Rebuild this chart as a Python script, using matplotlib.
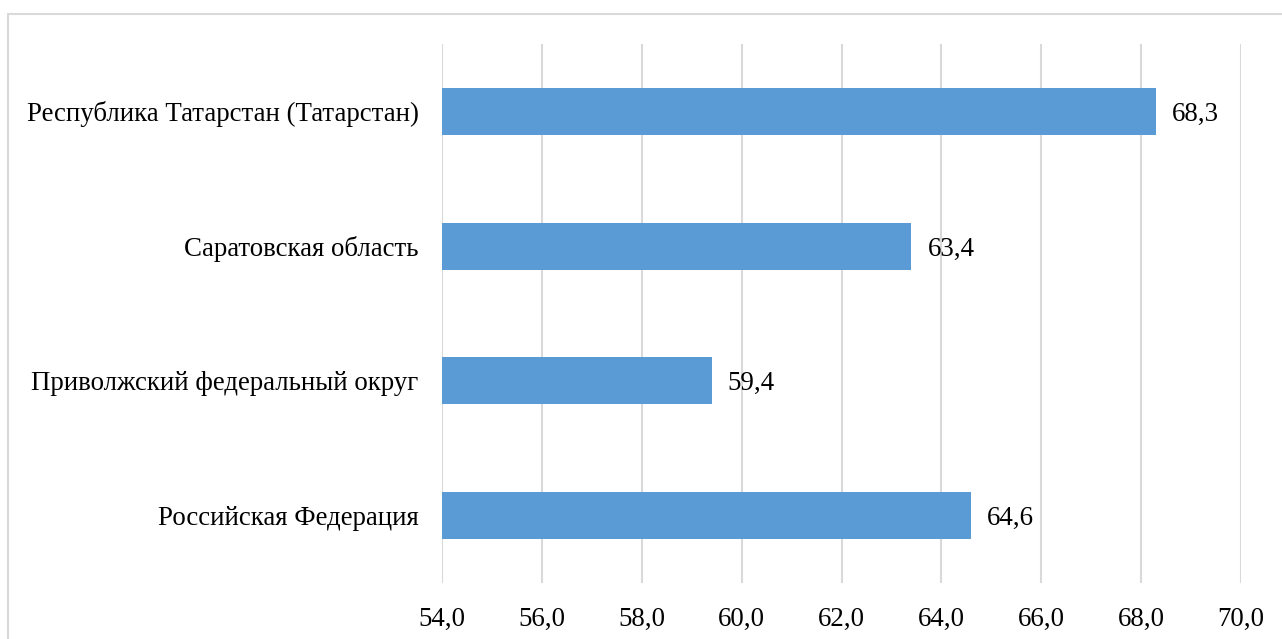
import matplotlib.pyplot as plt
from matplotlib.patches import Rectangle

categories = ["Российская Федерация", "Приволжский федеральный округ",
              "Саратовская область", "Республика Татарстан (Татарстан)"]
values = [64.6, 59.4, 63.4, 68.3]
xticks = [54, 56, 58, 60, 62, 64, 66, 68, 70]

plt.rcParams['font.family'] = ['Liberation Serif', 'DejaVu Serif']

W, H = 1282, 639
FS = 19.4
fig = plt.figure(figsize=(W / 100, H / 100), dpi=100)
fig.patch.set_facecolor('white')

# light frame around the chart area
fig.patches.append(Rectangle((8 / W, -0.05), 1.2, (H - 14) / H + 0.05,
                             transform=fig.transFigure, fill=False,
                             edgecolor='#d9d9d9', linewidth=1.5))

ax = fig.add_axes([442 / W, (H - 583) / H, (1241 - 442) / W, (583 - 44) / H])
y = range(len(categories))
ax.barh(y, [v - 54 for v in values], left=54, height=0.35, color='#5B9BD5', zorder=3)
ax.set_xlim(54, 70)
ax.set_ylim(-0.5, len(categories) - 0.5)
ax.set_xticks(xticks)
ax.set_xticklabels([f"{t:.1f}".replace('.', ',') for t in xticks], fontsize=FS)
ax.set_yticks(list(y))
ax.set_yticklabels(categories, fontsize=FS)
for lbl in ax.get_yticklabels():
    lbl.set_verticalalignment('center_baseline')
ax.tick_params(axis='both', length=0)
ax.tick_params(axis='x', pad=17)
ax.tick_params(axis='y', pad=17)
ax.grid(axis='x', color='#d9d9d9', linewidth=1.5, zorder=0)
for s in ax.spines.values():
    s.set_visible(False)

for yi, v in zip(y, values):
    ax.text(v + 0.32, yi, f"{v:.1f}".replace('.', ','), va='center_baseline',
            ha='left', fontsize=FS)

fig.savefig('out.png', dpi=100)
